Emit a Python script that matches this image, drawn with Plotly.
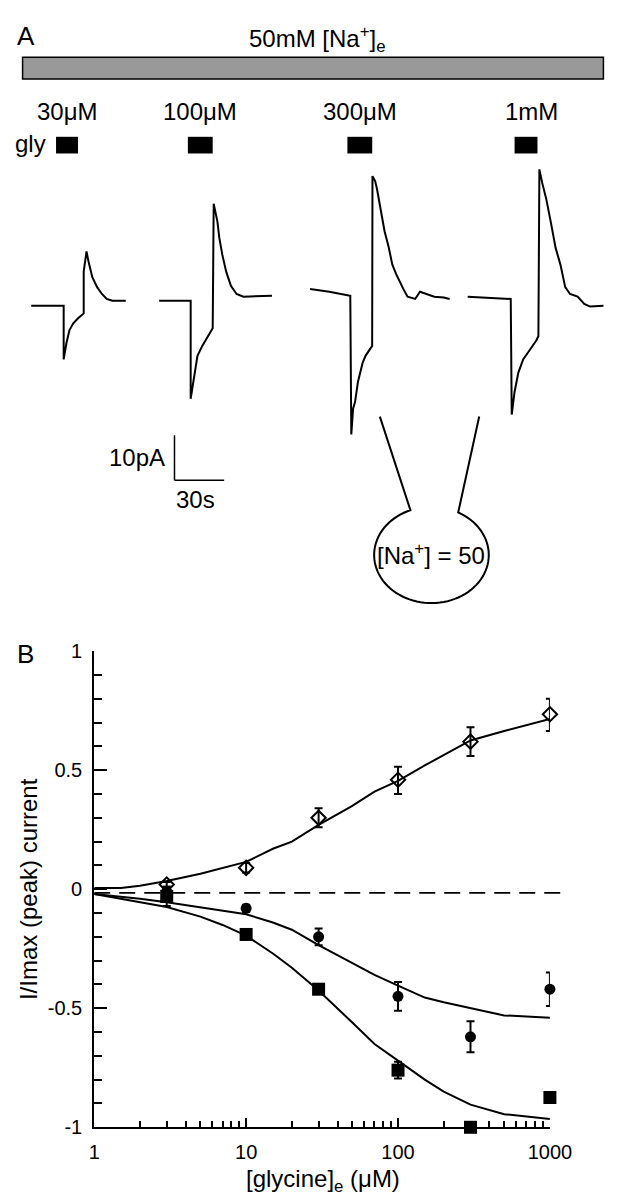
import math
import plotly.graph_objects as go

# ---------------- Panel B data ----------------
conc = [3, 10, 30, 100, 300, 1000]               # glycine, uM
diam_y = [0.02, 0.09, 0.30, 0.46, 0.62, 0.735]
diam_up = [0.01, 0.02, 0.04, 0.055, 0.06, 0.065]
diam_dn = [0.01, 0.02, 0.04, 0.06, 0.06, 0.07]
circ_y = [-0.01, -0.08, -0.20, -0.45, -0.62, -0.42]
circ_err = [0.01, 0.015, 0.035, 0.06, 0.065, 0.07]
sq_y = [-0.03, -0.19, -0.42, -0.76, -1.0, -0.875]
sq_err = [0.04, 0.015, 0.02, 0.035, 0.02, 0.015]

fit_x = [1, 1.5, 2, 3, 5, 7, 10, 15, 20, 30, 50, 70, 100, 150, 200, 300, 500, 700, 1000]
fit_pos = [0.005, 0.005, 0.015, 0.035, 0.065, 0.09, 0.115, 0.17, 0.20, 0.27, 0.35, 0.41,
           0.455, 0.52, 0.565, 0.625, 0.665, 0.69, 0.715]
fit_neg1 = [-0.02, -0.03, -0.04, -0.055, -0.075, -0.09, -0.105, -0.14, -0.17, -0.235, -0.31,
            -0.36, -0.405, -0.455, -0.475, -0.50, -0.53, -0.535, -0.54]
fit_neg2 = [-0.02, -0.04, -0.055, -0.075, -0.115, -0.15, -0.195, -0.27, -0.33, -0.425, -0.56,
            -0.65, -0.72, -0.80, -0.85, -0.905, -0.945, -0.955, -0.965]
zero_x = [1, 1240]
zero_y = [-0.015, -0.015]

y_ticks = [1, 0.5, 0, -0.5, -1]
y_ticktext = ["1", "0.5", "0", "-0.5", "-1"]
x_ticks = [1, 10, 100, 1000]
x_ticktext = ["1", "10", "100", "1000"]

# ---------------- Panel A data (time s, current pA) ----------------
t1 = [10.4, 30.0, 30.0, 30.6, 31.7, 33.5, 35.8, 38.7, 42.1, 42.1, 43.8, 45.0, 47.3, 50.2, 53.1, 56.0, 59.4, 67.5]
i1 = [-1.1, -1.1, -13.0, -11.5, -9.3, -6.5, -5.0, -3.9, -2.8, 6.5, 10.9, 8.7, 5.2, 3.0, 1.5, 0.4, 0.0, 0.0]
t2 = [87.7, 106.7, 106.7, 108.5, 110.8, 113.7, 116.5, 120.0, 120.6, 122.9, 124.0, 125.8, 128.1, 131.0, 134.4, 138.5, 155.8]
i2 = [0.0, 0.0, -21.7, -17.4, -12.2, -10.0, -8.3, -6.1, 21.5, 17.4, 13.9, 10.2, 6.5, 3.3, 1.5, 0.9, 1.1]
t3 = [178.8, 190.4, 203.1, 203.7, 204.8, 206.0, 207.7, 208.9, 210.6, 212.3, 214.6, 216.3, 216.5, 218.1,
      219.2, 221.5, 223.8, 226.2, 228.5, 230.8, 233.1, 235.4, 237.7, 242.3, 245.2, 249.2, 253.8, 259.6, 263.1]
i3 = [2.6, 2.0, 1.1, -29.6, -23.9, -22.4, -18.0, -16.3, -13.7, -12.2, -10.9, -10.0, 27.6, 26.5,
      24.8, 19.8, 15.4, 12.0, 8.0, 5.9, 4.1, 2.4, 0.9, 0.4, 2.0, 1.5, 0.9, 0.7, 0.4]
t4 = [274.0, 288.5, 300.0, 300.6, 302.3, 304.6, 307.5, 311.5, 315.6, 316.7, 317.3, 319.0, 321.4,
      324.2, 327.1, 330.0, 332.9, 335.8, 340.4, 344.4, 347.9, 356.0]
i4 = [0.9, 0.7, 0.4, -25.2, -20.2, -15.9, -13.0, -10.9, -8.7, -7.8, 29.1, 26.1, 22.6,
      17.4, 11.7, 8.0, 3.0, 1.5, 0.9, -0.7, -1.3, -1.1]
gly_labels = ["30μM", "100μM", "300μM", "1mM"]
scale_pA = 10
scale_s = 30

# ---------------- layout helpers ----------------
W, H = 626, 1199
def px(x):
    return x / W
def py(y):
    return 1 - y / H

FONT = "Liberation Sans, Arial, sans-serif"
fig = go.Figure()

# Panel A traces
for t, i in [(t1, i1), (t2, i2), (t3, i3), (t4, i4)]:
    fig.add_trace(go.Scatter(x=t, y=i, mode="lines", xaxis="x2", yaxis="y2",
                             line=dict(color="black", width=2), showlegend=False))

# Panel B dashed zero line (own wider x axis so it can extend past 1000)
fig.add_trace(go.Scatter(x=zero_x, y=zero_y, mode="lines", xaxis="x3", yaxis="y",
                         line=dict(color="black", width=1.8, dash="16px,9px"), showlegend=False))

# fit curves
for fy in [fit_pos, fit_neg1, fit_neg2]:
    fig.add_trace(go.Scatter(x=fit_x, y=fy, mode="lines", line=dict(color="black", width=2),
                             showlegend=False, cliponaxis=False))

# data points
fig.add_trace(go.Scatter(x=conc, y=diam_y, mode="markers", showlegend=False, cliponaxis=False,
                         marker=dict(symbol="diamond-open", size=11, color="black", line=dict(width=2)),
                         error_y=dict(type="data", array=diam_up, arrayminus=diam_dn, symmetric=False,
                                      color="black", thickness=2, width=4)))
fig.add_trace(go.Scatter(x=conc, y=circ_y, mode="markers", showlegend=False, cliponaxis=False,
                         marker=dict(symbol="circle", size=11, color="black"),
                         error_y=dict(type="data", array=circ_err, color="black", thickness=2, width=4)))
fig.add_trace(go.Scatter(x=conc, y=sq_y, mode="markers", showlegend=False, cliponaxis=False,
                         marker=dict(symbol="square", size=13, color="black"),
                         error_y=dict(type="data", array=sq_err, color="black", thickness=2, width=4)))

xdom = [px(84), px(561)]
ydom = [py(1129), py(644)]
fig.update_layout(
    width=W, height=H, autosize=False,
    margin=dict(l=0, r=0, t=0, b=0),
    paper_bgcolor="white", plot_bgcolor="rgba(0,0,0,0)",
    font=dict(family=FONT, size=20, color="black"),
    xaxis=dict(type="log", range=[0, 3], domain=xdom, anchor="y",
               showline=True, linecolor="black", linewidth=2, showgrid=False, zeroline=False,
               tickmode="array", tickvals=x_ticks, ticktext=x_ticktext,
               ticks="inside", ticklen=9, tickwidth=2, tickcolor="black", ticklabelstandoff=6,
               minor=dict(tickvals=[2, 3, 4, 5, 6, 7, 8, 9, 20, 30, 40, 50, 60, 70, 80, 90,
                                    200, 300, 400, 500, 600, 700, 800, 900],
                          ticks="inside", ticklen=6, tickwidth=2, tickcolor="black", showgrid=False),
               tickfont=dict(size=20)),
    yaxis=dict(range=[-1, 1], domain=ydom, anchor="x",
               showline=True, linecolor="black", linewidth=2, showgrid=False, zeroline=False,
               tickmode="array", tickvals=y_ticks, ticktext=y_ticktext,
               ticks="inside", ticklen=13, tickwidth=2, tickcolor="black", ticklabelstandoff=6,
               minor=dict(dtick=0.1, ticks="inside", ticklen=8, tickwidth=2, tickcolor="black",
                          showgrid=False),
               tickfont=dict(size=20)),
    xaxis3=dict(type="log", range=[0, (576 - 84) / 159], domain=[px(84), px(576)], anchor="y",
                visible=False),
    xaxis2=dict(range=[0, W / (52 / 30)], domain=[0, 1], anchor="y2", visible=False),
    yaxis2=dict(range=[(287 - 500) / 4.6, (287 - 140) / 4.6], domain=[py(500), py(140)],
                anchor="x2", visible=False),
)

shapes = []
ann = []

def text(x, y, s, size=24, xanchor="center", yanchor="middle", **kw):
    ann.append(dict(x=px(x), y=py(y), xref="paper", yref="paper", text=s, showarrow=False,
                    xanchor=xanchor, yanchor=yanchor, font=dict(size=size, family=FONT, color="black"), **kw))

# Panel A header
text(1, 17, "A", size=26, xanchor="left")
text(318, 20, "50mM [Na<sup>+</sup>]<sub>e</sub>")
shapes.append(dict(type="rect", xref="paper", yref="paper", x0=px(9), x1=px(617), y0=py(61), y1=py(39),
                   fillcolor="#999999", line=dict(color="black", width=1.5)))
for lab, cx in zip(gly_labels, [56, 195, 362, 542]):
    text(cx, 94, lab)
text(-1, 127, "gly", xanchor="left")
for x0, x1 in [(44, 67), (182, 208), (349, 375), (524, 548)]:
    shapes.append(dict(type="rect", xref="paper", yref="paper", x0=px(x0), x1=px(x1), y0=py(137), y1=py(120),
                       fillcolor="black", line=dict(color="black", width=0)))

# scale bar (in data units of the trace axes)
sb_t = 168 / (52 / 30)
sb_i = (287 - 470) / 4.6
shapes.append(dict(type="line", xref="x2", yref="y2", x0=sb_t, x1=sb_t, y0=sb_i, y1=sb_i + scale_pA,
                   line=dict(color="black", width=1.5)))
shapes.append(dict(type="line", xref="x2", yref="y2", x0=sb_t, x1=sb_t + scale_s, y0=sb_i, y1=sb_i,
                   line=dict(color="black", width=1.5)))
text(160, 447, "10pA", xanchor="right")
text(190, 489, "30s")

# cell bubble
cx, cy, rx, ry = 437, 546, 60, 49
a0 = math.degrees(math.acos((415 - cx) / rx))
a1 = 360 + math.degrees(math.acos((465 - cx) / rx))
pts = [(383, 405)]
n = 80
for k in range(n + 1):
    a = math.radians(a0 + (a1 - a0) * k / n)
    pts.append((cx + rx * math.cos(a), cy - ry * math.sin(a)))
pts.append((487, 405))
path = "M " + " L ".join(f"{px(x):.5f},{py(y):.5f}" for x, y in pts)
shapes.append(dict(type="path", xref="paper", yref="paper", path=path,
                   line=dict(color="black", width=2)))
text(437, 545, "[Na<sup>+</sup>] = 50")

# Panel B labels
text(1, 647, "B", size=26, xanchor="left")
text(15, 886, "I/Imax (peak) current", textangle=-90)
text(323, 1183, "[glycine]<sub>e</sub> (μM)")

fig.update_layout(shapes=shapes, annotations=ann)
fig.write_html("out.html")
